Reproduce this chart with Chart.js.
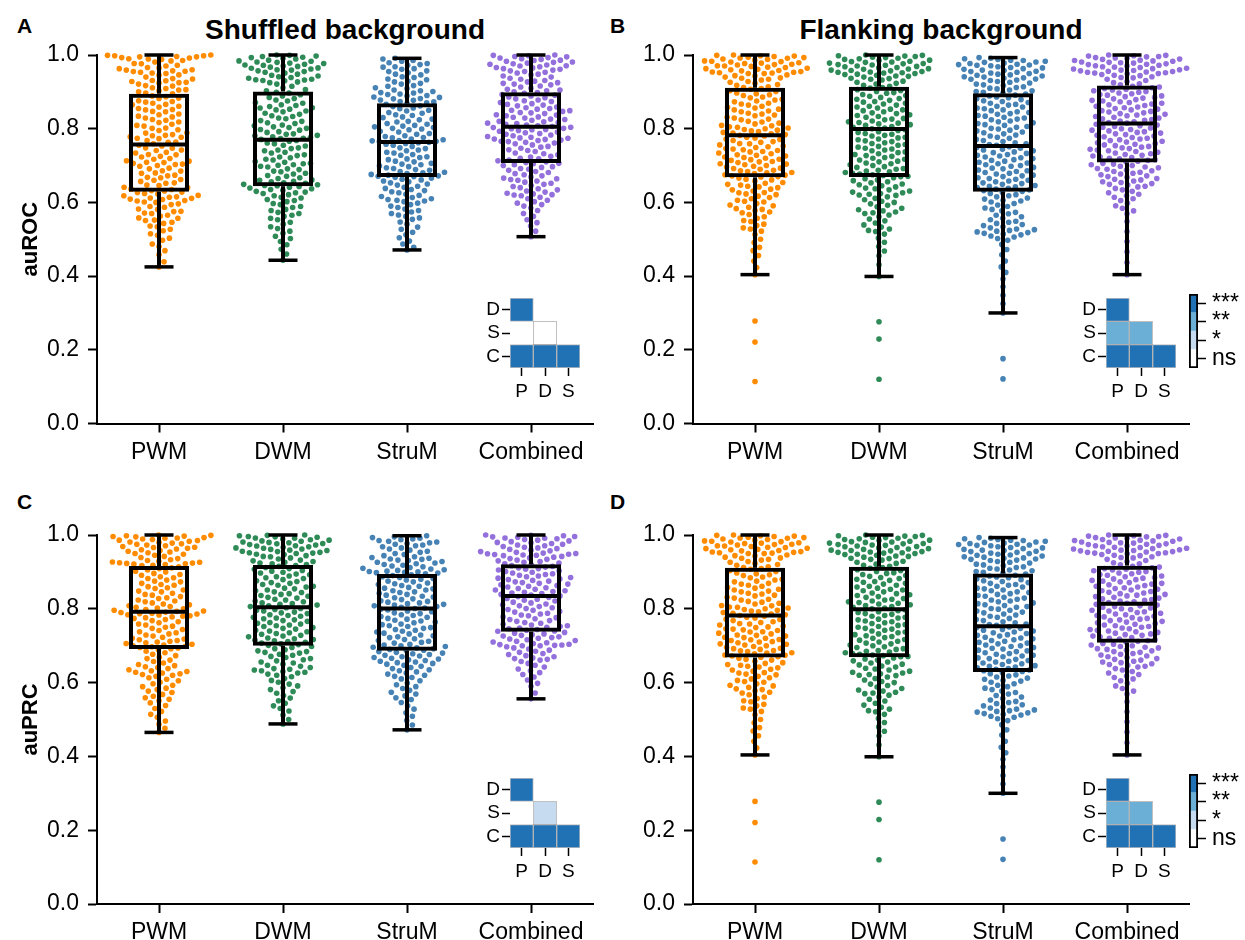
<!DOCTYPE html>
<html>
<head>
<meta charset="utf-8">
<script src="https://cdn.jsdelivr.net/npm/chart.js@4.4.1/dist/chart.umd.min.js"></script>
<style>
  body { margin: 0; background: #fff; width: 1245px; height: 940px; position: relative; overflow: hidden;
         font-family: "Liberation Sans", Arial, sans-serif; }
  .pane { position: absolute; }
  .lbl { position: absolute; white-space: nowrap; color: #000; font-weight: bold; line-height: 1; }
</style>
</head>
<body>
<div class="lbl" style="left:17px;top:15px;font-size:21px">A</div>
<div class="lbl" style="left:610px;top:15px;font-size:21px">B</div>
<div class="lbl" style="left:17px;top:491px;font-size:21px">C</div>
<div class="lbl" style="left:610px;top:491px;font-size:21px">D</div>
<div class="lbl" style="left:345px;top:16px;font-size:28px;transform:translateX(-50%)">Shuffled background</div>
<div class="lbl" style="left:941px;top:16px;font-size:28px;transform:translateX(-50%)">Flanking background</div>

<script>
const methods = ['PWM', 'DWM', 'StruM', 'Combined'];
const dotColors = ['#ff8c00', '#2e8b57', '#4682b4', '#9370db'];
const rowLabels = ['D', 'S', 'C'];
const colLabels = ['P', 'D', 'S'];
const sigLabels = ['ns', '*', '**', '***'];
const sigColors = ['#ffffff', '#c6dbef', '#6baed6', '#2171b5'];

// shuffled background, auROC (panel A)
const shufRocPwm = [1.000,0.999,0.998,0.998,0.996,0.995,0.995,0.993,0.992,0.990,0.989,0.988,0.985,0.984,
  0.981,0.977,0.976,0.972,0.970,0.966,0.965,0.963,0.960,0.959,0.957,0.956,0.955,0.953,0.951,0.950,
  0.946,0.945,0.940,0.936,0.935,0.931,0.930,0.928,0.926,0.925,0.924,0.921,0.917,0.916,0.911,0.909,0.906,0.905,0.903,0.900,
  0.897,0.895,0.889,0.887,0.883,0.882,0.876,0.874,0.872,0.869,0.866,0.865,0.861,0.859,0.855,0.852,0.851,
  0.847,0.846,0.840,0.838,0.834,0.832,0.829,0.825,0.823,0.818,0.817,0.812,0.809,0.807,0.802,0.801,
  0.797,0.795,0.789,0.788,0.784,0.782,0.781,0.778,0.777,0.774,0.773,0.768,0.764,0.763,0.759,
  0.755,0.753,0.748,0.747,0.742,0.741,0.736,0.734,0.730,0.729,0.725,0.723,0.719,0.717,0.713,0.712,0.709,0.708,0.706,0.704,0.703,0.700,
  0.698,0.693,0.691,0.686,0.685,0.680,0.679,0.674,0.672,0.668,0.667,0.662,0.660,0.657,0.653,0.652,
  0.647,0.646,0.641,0.640,0.636,0.635,0.632,0.631,0.628,
  0.627,0.624,0.623,0.619,0.618,0.615,0.614,0.612,0.611,0.609,0.608,0.605,0.604,0.601,0.600,
  0.596,0.594,0.589,0.587,0.582,0.581,0.576,0.575,0.571,0.570,0.565,0.563,0.558,0.557,0.552,0.551,
  0.546,0.543,0.536,0.534,0.527,0.523,0.515,0.511,0.503,
  0.497,0.487,0.480,0.469,0.458,0.439,0.425];
const shufRocDwm = [1.000,0.999,0.997,0.996,0.994,0.993,0.991,0.989,0.986,
  0.984,0.983,0.981,0.980,0.978,0.977,0.975,0.973,0.972,0.970,0.969,0.967,0.965,0.964,0.962,0.960,0.959,0.957,0.955,0.953,0.951,
  0.948,0.945,0.943,0.941,0.939,0.937,0.934,0.933,0.932,0.931,0.930,0.927,0.925,0.921,0.915,0.911,0.906,0.903,
  0.899,0.897,0.892,0.889,0.885,0.882,0.878,0.875,0.871,0.869,0.865,0.863,0.860,0.857,0.856,0.853,0.851,
  0.848,0.846,0.842,0.839,0.835,0.833,0.829,0.827,0.822,0.820,0.816,0.814,0.810,0.808,0.805,0.803,0.801,
  0.798,0.796,0.792,0.790,0.786,0.785,0.782,0.781,0.778,0.776,0.774,0.773,0.771,
  0.768,0.766,0.761,0.759,0.755,0.753,0.748,0.746,0.742,0.740,0.736,0.734,0.729,0.727,0.723,0.721,0.717,0.715,0.711,0.709,0.706,0.705,0.702,0.701,
  0.698,0.696,0.691,0.689,0.685,0.683,0.679,0.677,0.673,0.671,0.667,0.665,0.661,0.660,0.657,0.656,0.653,0.652,0.649,0.648,0.646,0.645,
  0.643,0.641,0.639,0.637,0.635,0.633,0.630,0.628,0.626,0.624,0.621,0.618,0.614,0.612,0.608,0.605,0.602,
  0.597,0.594,0.589,0.586,0.581,0.578,0.573,0.570,0.565,0.562,0.557,0.553,
  0.546,0.541,0.534,0.529,0.522,0.516,0.508,0.502,
  0.494,0.485,0.473,0.460,0.443];
const shufRocStrum = [0.991,0.989,0.985,0.983,0.979,0.977,0.974,0.972,0.968,0.967,0.963,0.961,0.957,0.955,0.952,
  0.948,0.946,0.941,0.939,0.935,0.933,0.929,0.927,0.923,0.921,0.917,0.915,0.911,0.909,0.905,0.903,0.901,
  0.898,0.897,0.894,0.893,0.890,0.889,0.886,0.885,0.882,0.881,0.878,0.877,0.874,0.873,0.870,
  0.868,0.866,0.862,0.860,0.856,0.854,0.850,0.848,0.844,0.842,0.838,0.836,0.832,0.830,0.826,0.824,0.820,0.818,0.814,0.812,0.809,0.807,0.805,0.803,0.801,
  0.799,0.797,0.793,0.791,0.787,0.785,0.781,0.779,0.776,0.775,0.772,0.770,0.768,0.767,0.766,0.765,
  0.763,0.762,0.760,0.758,0.755,0.752,0.748,0.746,0.742,0.740,0.736,0.734,0.730,0.728,0.724,0.722,0.718,0.716,0.712,0.710,0.706,0.704,0.702,
  0.699,0.697,0.694,0.692,0.689,0.687,0.684,0.682,0.680,0.678,0.676,0.674,0.672,0.671,0.670,
  0.668,0.666,0.663,0.661,0.658,0.656,0.653,0.650,0.647,0.644,0.641,0.638,0.635,0.632,0.629,0.626,0.622,0.619,0.616,0.613,0.610,0.608,0.606,0.604,0.602,
  0.598,0.594,0.590,0.586,0.582,0.578,0.574,0.570,0.566,0.562,0.558,0.554,
  0.547,0.541,0.533,0.527,0.519,0.512,0.504,
  0.495,0.487,0.478,0.471];
const shufRocComb = [1.000,0.999,0.998,0.996,0.995,0.993,0.992,0.990,0.988,0.986,
  0.985,0.983,0.981,0.980,0.978,0.976,0.975,0.973,0.971,0.970,0.968,0.966,0.965,0.963,0.961,0.959,0.957,0.955,0.953,0.951,
  0.948,0.946,0.943,0.940,0.937,0.934,0.931,0.929,0.927,0.925,0.923,0.921,0.919,0.916,0.913,0.910,0.907,0.905,0.903,0.900,
  0.898,0.896,0.893,0.891,0.889,0.886,0.884,0.881,0.878,0.876,0.874,0.871,0.868,0.866,0.864,0.862,0.859,0.857,0.855,0.853,0.850,0.849,0.847,0.844,0.843,
  0.841,0.838,0.837,0.835,0.832,0.831,0.829,0.826,0.825,0.823,0.820,0.819,0.817,0.815,0.814,0.812,0.810,0.808,0.806,0.804,0.803,0.801,0.800,0.798,0.797,
  0.795,0.793,0.791,0.789,0.787,0.785,0.783,0.781,0.779,0.777,0.775,0.774,0.772,0.771,0.769,0.768,0.766,0.765,0.763,0.761,
  0.759,0.756,0.752,0.750,0.747,0.743,0.741,0.738,0.734,0.732,0.729,0.725,0.723,0.720,0.718,0.715,0.713,0.710,0.708,0.706,
  0.705,0.702,0.700,0.697,0.695,0.692,0.690,0.687,0.684,0.681,0.678,0.675,0.672,0.669,0.666,0.664,0.662,0.660,
  0.658,0.655,0.652,0.649,0.646,0.643,0.640,0.637,0.634,0.631,0.628,0.625,0.623,0.621,0.620,0.618,
  0.614,0.610,0.606,0.602,0.598,0.594,0.590,0.585,
  0.578,0.570,0.562,0.553,0.545,
  0.536,0.522,0.507];

// shuffled background, auPRC (panel C)
const shufPrcPwm = [1.000,0.999,0.998,0.997,0.996,0.995,0.993,0.992,0.991,0.989,0.988,0.986,0.985,
  0.983,0.981,0.980,0.978,0.976,0.975,0.973,0.971,0.969,0.967,0.966,0.964,0.962,0.960,0.958,0.956,0.954,0.952,0.950,
  0.948,0.945,0.942,0.939,0.936,0.933,0.931,0.929,0.927,0.926,0.925,0.924,0.923,0.922,0.921,0.920,0.918,0.917,
  0.914,0.911,0.909,0.905,0.902,0.900,0.896,0.893,0.891,0.887,0.884,0.882,0.878,0.875,0.873,0.869,0.866,0.864,0.860,0.857,0.855,0.851,0.848,0.846,0.842,
  0.839,0.837,0.833,0.830,0.828,0.824,0.821,0.819,0.816,0.813,0.811,0.808,0.806,0.804,0.802,0.800,0.798,0.796,0.794,0.793,0.791,0.790,0.788,0.787,0.786,
  0.784,0.783,0.781,0.780,0.778,0.776,0.774,0.771,0.768,0.765,0.762,0.759,0.756,0.753,0.750,0.747,0.744,0.741,0.738,0.735,
  0.732,0.729,0.726,0.723,0.720,0.718,0.716,0.714,0.712,0.710,0.708,0.706,0.704,0.702,0.700,0.698,0.697,0.695,0.694,0.692,
  0.689,0.685,0.681,0.677,0.673,0.669,0.665,0.661,0.657,0.653,0.649,0.646,0.643,0.641,
  0.638,0.635,0.632,0.630,0.628,0.626,0.624,0.622,0.620,0.617,0.613,0.609,0.605,0.601,
  0.597,0.593,0.589,0.585,0.581,0.577,0.573,0.568,0.563,0.559,0.555,0.551,
  0.545,0.538,0.530,0.522,0.514,0.506,
  0.496,0.487,0.476,0.465];
const shufPrcDwm = [1.000,0.999,0.998,0.996,0.995,0.994,0.992,0.991,0.989,0.987,0.986,
  0.984,0.983,0.981,0.980,0.979,0.977,0.976,0.974,0.973,0.971,0.970,0.968,0.967,0.965,0.964,0.962,0.961,0.959,0.958,0.956,0.955,0.953,0.952,0.951,0.950,
  0.948,0.947,0.944,0.942,0.941,0.938,0.935,0.932,0.930,0.928,0.926,0.924,0.922,0.920,
  0.917,0.915,0.912,0.909,0.907,0.904,0.902,0.899,0.897,0.894,0.892,0.889,0.887,0.884,0.882,0.879,0.876,0.874,0.871,0.869,0.866,0.864,0.861,0.859,0.856,
  0.854,0.851,0.849,0.846,0.844,0.841,0.839,0.836,0.834,0.831,0.829,0.826,0.824,0.821,0.819,0.816,0.814,0.812,0.810,0.808,0.806,0.805,
  0.803,0.801,0.798,0.796,0.794,0.791,0.789,0.787,0.784,0.782,0.780,0.777,0.775,0.773,0.770,0.768,0.766,0.763,0.761,0.759,0.756,0.754,0.752,0.749,0.747,
  0.745,0.742,0.740,0.738,0.735,0.733,0.731,0.728,0.726,0.724,0.721,0.719,0.717,0.715,0.713,0.711,0.709,0.707,0.705,0.703,0.701,
  0.698,0.695,0.692,0.689,0.686,0.684,0.682,0.680,0.677,0.674,0.671,0.668,0.665,0.662,
  0.659,0.656,0.653,0.650,0.647,0.644,0.641,0.638,0.636,0.634,0.632,0.630,0.628,0.626,0.623,0.620,
  0.616,0.611,0.606,0.601,0.596,0.591,0.586,0.581,0.576,0.571,
  0.565,0.558,0.551,0.544,0.537,0.530,0.523,
  0.512,0.500,0.488];
const shufPrcStrum = [0.998,0.995,0.993,0.991,0.989,0.987,0.985,0.983,0.981,0.979,0.977,0.975,0.973,0.971,
  0.968,0.965,0.962,0.959,0.956,0.953,0.950,0.947,0.944,0.941,0.939,0.937,0.935,0.934,0.932,0.931,
  0.928,0.926,0.924,0.922,0.920,0.918,0.916,0.914,0.912,0.910,0.908,0.906,0.904,0.902,0.901,0.900,0.899,0.898,0.897,0.895,
  0.892,0.890,0.887,0.885,0.882,0.880,0.878,0.875,0.873,0.870,0.868,0.866,0.863,0.861,0.858,0.856,0.854,0.851,0.849,0.846,0.844,0.842,0.839,0.837,0.834,
  0.832,0.830,0.827,0.825,0.822,0.820,0.818,0.816,0.814,0.812,0.810,0.808,0.806,0.804,0.802,0.801,
  0.799,0.797,0.794,0.792,0.789,0.787,0.784,0.782,0.779,0.777,0.774,0.772,0.769,0.767,0.764,0.762,0.759,0.757,0.754,0.752,0.749,0.747,0.744,0.742,0.739,
  0.737,0.734,0.732,0.729,0.727,0.724,0.722,0.719,0.717,0.714,0.712,0.709,0.707,0.704,0.702,0.700,0.698,0.696,0.694,0.692,0.690,0.688,0.687,
  0.684,0.682,0.680,0.678,0.676,0.674,0.672,0.670,0.668,0.666,0.664,0.662,0.660,0.658,0.656,0.654,0.652,0.650,
  0.647,0.644,0.641,0.638,0.635,0.632,0.629,0.626,0.623,0.620,0.617,0.614,0.610,0.605,
  0.599,0.594,0.589,0.584,0.579,0.574,0.569,0.564,0.559,0.554,
  0.546,0.537,0.528,0.518,0.509,
  0.497,0.485,0.472];
const shufPrcComb = [1.000,0.999,0.998,0.996,0.995,0.994,0.992,0.991,0.990,0.988,0.986,
  0.984,0.982,0.980,0.979,0.977,0.975,0.973,0.971,0.969,0.967,0.965,0.963,0.961,0.959,0.957,0.955,0.953,0.951,0.950,0.949,
  0.948,0.947,0.946,0.945,0.944,0.942,0.940,0.938,0.936,0.934,0.932,0.930,0.928,0.926,0.924,0.922,
  0.919,0.917,0.915,0.913,0.911,0.909,0.907,0.905,0.903,0.901,0.899,0.897,0.895,0.893,0.891,0.889,0.887,0.885,0.883,0.881,0.879,0.877,0.875,0.873,0.871,
  0.869,0.867,0.865,0.863,0.861,0.859,0.857,0.855,0.853,0.851,0.849,0.847,0.845,0.843,0.841,0.839,0.837,0.835,
  0.833,0.831,0.828,0.826,0.823,0.821,0.818,0.816,0.813,0.811,0.808,0.806,0.803,0.801,0.798,0.796,0.793,0.791,0.788,0.786,0.783,0.781,0.778,0.776,0.773,
  0.771,0.768,0.766,0.763,0.761,0.758,0.756,0.754,0.752,0.750,0.748,0.746,0.744,0.742,0.740,0.739,
  0.736,0.734,0.732,0.730,0.728,0.726,0.724,0.722,0.720,0.718,0.716,0.714,0.712,0.710,0.708,0.706,0.704,0.703,0.702,0.701,0.700,0.700,
  0.697,0.694,0.691,0.688,0.685,0.682,0.679,0.676,0.673,0.670,0.667,0.665,0.663,0.661,
  0.657,0.652,0.647,0.642,0.637,0.632,0.627,0.622,
  0.615,0.607,0.598,0.590,
  0.572,0.556];

// flanking background (panels B and D read identical in the figure)
const flankPwm = [1.000,0.999,0.998,0.997,0.996,0.994,0.993,0.992,0.991,0.989,0.988,0.986,
  0.984,0.983,0.982,0.981,0.979,0.978,0.977,0.975,0.974,0.973,0.971,0.970,0.969,0.967,0.966,0.964,0.963,0.961,0.960,0.958,0.957,0.955,0.954,0.953,0.952,0.951,0.950,0.950,
  0.946,0.944,0.943,0.940,0.938,0.937,0.934,0.932,0.928,0.926,0.923,0.920,0.918,0.914,0.912,
  0.909,0.907,0.903,0.901,0.897,0.895,0.892,0.890,0.886,0.884,0.880,0.878,0.875,0.873,0.869,0.867,0.864,0.861,0.858,0.856,0.853,0.851,
  0.848,0.846,0.842,0.840,0.837,0.835,0.831,0.829,0.826,0.824,0.820,0.818,0.815,0.813,0.809,0.808,0.805,0.804,0.802,0.800,
  0.798,0.796,0.794,0.792,0.790,0.788,0.786,0.784,0.782,
  0.780,0.777,0.775,0.772,0.771,0.768,0.765,0.763,0.760,0.759,0.756,0.753,0.751,0.749,0.746,0.745,0.743,0.741,
  0.738,0.737,0.734,0.732,0.729,0.728,0.726,0.723,0.722,0.720,0.717,0.716,0.714,0.711,0.710,0.708,0.705,0.704,0.702,0.700,
  0.698,0.696,0.693,0.692,0.690,0.687,0.686,0.684,0.681,0.680,0.678,0.675,0.674,0.672,0.670,0.669,
  0.666,0.663,0.661,0.658,0.654,0.652,0.649,0.647,0.644,0.642,0.640,0.636,0.634,0.631,0.627,0.626,0.623,0.621,
  0.617,0.613,0.610,0.606,0.603,0.601,0.597,0.593,0.591,0.587,0.583,0.581,0.578,0.574,0.572,
  0.567,0.561,0.557,0.551,0.548,0.541,0.537,0.531,0.528,0.522,
  0.513,0.500,0.491,0.478,0.469,0.456,
  0.441,0.423,0.404,
  0.278,0.221,0.114];
const flankDwm = [1.000,0.999,0.998,0.997,0.996,0.994,0.993,0.991,0.990,0.988,0.986,
  0.985,0.983,0.982,0.981,0.980,0.978,0.977,0.976,0.974,0.973,0.972,0.970,0.969,0.968,0.966,0.965,0.963,0.962,0.961,0.959,0.958,0.957,0.955,0.954,0.953,0.952,0.951,0.950,
  0.948,0.947,0.945,0.943,0.942,0.940,0.937,0.936,0.934,0.932,0.929,0.926,0.923,0.921,0.918,0.915,
  0.912,0.910,0.906,0.904,0.901,0.898,0.896,0.893,0.890,0.888,0.885,0.882,0.880,0.877,0.874,0.872,0.869,0.867,0.864,0.861,0.859,0.856,0.853,0.851,0.849,
  0.846,0.843,0.841,0.838,0.836,0.833,0.831,0.828,0.826,0.824,0.821,0.819,0.817,0.815,0.813,0.811,0.809,0.806,0.804,0.802,0.800,
  0.797,0.795,0.792,0.790,0.787,0.785,0.782,0.780,0.777,0.775,0.772,0.770,0.767,0.765,0.762,0.760,0.757,0.755,0.752,0.750,0.747,0.745,0.742,0.740,0.737,
  0.735,0.732,0.730,0.727,0.725,0.722,0.720,0.717,0.715,0.712,0.710,0.707,0.705,0.702,0.700,0.697,0.695,0.692,0.690,0.687,0.685,0.683,0.681,0.679,0.677,0.675,0.673,0.671,0.670,
  0.667,0.664,0.661,0.659,0.656,0.653,0.650,0.648,0.645,0.642,0.639,0.637,0.634,0.631,0.628,0.626,0.624,0.622,0.620,0.619,
  0.615,0.611,0.607,0.603,0.600,0.596,0.592,0.588,0.584,0.580,0.577,0.574,0.572,0.570,
  0.566,0.561,0.555,0.550,0.544,0.539,0.533,0.528,0.524,0.521,
  0.514,0.503,0.492,0.480,0.468,0.455,
  0.431,0.399,
  0.276,0.229,0.120];
const flankStrum = [0.993,0.991,0.990,0.988,0.986,0.985,0.983,0.981,0.980,0.978,0.977,0.975,0.974,0.973,0.972,0.971,
  0.968,0.966,0.965,0.963,0.961,0.959,0.958,0.956,0.955,0.953,0.951,0.950,0.948,0.946,0.945,0.943,0.941,0.940,0.938,0.937,0.935,0.934,0.932,0.931,
  0.928,0.926,0.924,0.921,0.919,0.917,0.914,0.912,0.910,0.908,0.905,0.903,0.901,0.899,0.897,
  0.894,0.891,0.889,0.886,0.884,0.881,0.879,0.876,0.874,0.871,0.869,0.866,0.864,0.861,0.859,0.856,0.854,0.851,0.849,0.846,0.844,0.841,0.839,0.836,0.834,
  0.831,0.829,0.826,0.824,0.821,0.819,0.816,0.814,0.811,0.809,0.806,0.804,0.801,0.799,0.796,0.794,0.791,0.789,0.786,0.783,0.780,0.777,0.774,0.771,0.768,
  0.765,0.762,0.759,0.757,0.755,
  0.751,0.749,0.747,0.744,0.742,0.740,0.737,0.735,0.733,0.730,0.728,0.726,0.723,0.721,0.719,0.716,0.714,0.712,0.709,0.707,0.705,0.702,0.700,0.698,0.695,
  0.693,0.691,0.688,0.686,0.684,0.681,0.679,0.677,0.674,0.672,0.670,0.667,0.665,0.663,0.660,0.658,0.656,0.653,0.651,0.649,0.646,0.644,0.642,0.640,0.638,
  0.636,0.634,0.632,0.630,
  0.627,0.624,0.621,0.618,0.615,0.612,0.609,0.606,0.604,0.601,
  0.597,0.593,0.589,0.585,0.581,0.577,0.573,0.569,0.565,0.561,0.557,0.553,
  0.549,0.546,0.543,0.540,0.537,0.534,0.531,0.528,0.526,0.524,0.522,0.520,0.518,0.516,0.514,0.512,0.509,0.506,0.502,0.497,
  0.486,0.472,0.458,0.441,0.425,0.410,
  0.392,0.371,0.348,0.325,0.300,
  0.176,0.121];
const flankComb = [1.000,0.999,0.998,0.997,0.996,0.995,0.993,0.992,0.991,0.989,0.988,0.986,
  0.985,0.984,0.983,0.981,0.980,0.979,0.978,0.976,0.975,0.974,0.972,0.971,0.970,0.968,0.967,0.966,0.964,0.963,0.962,0.960,0.959,0.958,0.957,0.956,0.955,0.954,0.953,0.952,0.951,0.950,
  0.949,0.947,0.945,0.944,0.941,0.939,0.938,0.934,0.931,0.928,0.925,0.922,0.919,
  0.915,0.913,0.911,0.909,0.907,0.905,0.903,0.901,0.899,0.897,0.895,0.893,0.891,0.889,0.887,0.885,0.883,0.881,0.879,0.877,0.875,0.873,0.871,0.869,0.867,
  0.865,0.863,0.861,0.859,0.857,0.855,0.853,0.851,0.849,0.847,0.845,0.843,0.841,0.839,0.837,0.835,0.833,0.831,0.829,0.827,0.825,0.823,0.821,0.819,0.817,0.815,
  0.812,0.810,0.808,0.806,0.804,0.802,0.800,0.798,0.796,0.794,0.792,0.790,0.788,0.786,0.784,0.782,0.780,0.778,0.776,0.774,0.772,0.770,0.768,0.766,0.764,
  0.762,0.760,0.758,0.756,0.754,0.752,0.750,0.748,0.746,0.744,0.742,0.740,0.738,0.736,0.734,0.732,0.730,0.728,0.726,0.724,0.722,0.720,0.718,0.716,0.714,
  0.712,0.710,
  0.706,0.704,0.702,0.700,0.698,0.696,0.694,0.692,0.690,0.688,0.686,0.684,0.682,
  0.679,0.677,0.675,0.672,0.670,0.668,0.665,0.663,0.661,0.658,0.656,0.654,0.651,0.649,0.647,0.644,0.642,
  0.638,0.634,0.630,0.626,0.622,0.618,0.614,0.610,0.605,
  0.598,0.591,0.584,0.577,0.569,
  0.548,0.521,0.494,0.466,0.437,0.404];

// box summaries: [lower whisker, q1, median, q3, upper whisker]
const boxShufRoc = [[0.425, 0.629, 0.757, 0.895, 1.0], [0.443, 0.644, 0.770, 0.901, 1.0],
                    [0.471, 0.669, 0.764, 0.869, 0.991], [0.507, 0.707, 0.805, 0.899, 1.0]];
const boxFlankRoc = [[0.404, 0.668, 0.782, 0.911, 1.0], [0.399, 0.669, 0.799, 0.914, 1.0],
                     [0.300, 0.629, 0.753, 0.896, 0.993], [0.404, 0.708, 0.814, 0.917, 1.0]];
const boxShufPrc = [[0.465, 0.691, 0.792, 0.916, 1.0], [0.488, 0.700, 0.804, 0.919, 1.0],
                    [0.472, 0.686, 0.801, 0.894, 0.998], [0.556, 0.738, 0.835, 0.921, 1.0]];
const boxFlankPrc = [[0.404, 0.668, 0.782, 0.911, 1.0], [0.399, 0.669, 0.799, 0.914, 1.0],
                     [0.300, 0.629, 0.753, 0.896, 0.993], [0.404, 0.708, 0.814, 0.917, 1.0]];

// pairwise test levels, rows D,S,C against cols P,D,S (index into sigLabels, null = no cell)
const sigShufRoc = [[3], [null, 0], [3, 3, 3]];
const sigFlankRoc = [[3], [2, 2], [3, 3, 3]];
const sigShufPrc = [[3], [null, 1], [3, 3, 3]];
const sigFlankPrc = [[3], [2, 2], [3, 3, 3]];

const PX_PER_CAT = 124;
const PX_PER_UNIT = 368.5;
const DOT_GAP = 7.2;

Chart.defaults.font.family = '"Liberation Sans", Arial, sans-serif';
Chart.defaults.color = '#000';

function mount(left, top, w, h) {
  const div = document.createElement('div');
  div.className = 'pane';
  div.style.left = left + 'px';
  div.style.top = top + 'px';
  div.style.width = w + 'px';
  div.style.height = h + 'px';
  const cv = document.createElement('canvas');
  cv.width = w;
  cv.height = h;
  div.appendChild(cv);
  document.body.appendChild(div);
  return cv;
}

// beeswarm: lowest value first, each dot takes the free slot closest to the centre line
function swarm(values, center) {
  const order = values.map((v, i) => i).sort((a, b) => values[a] - values[b]);
  const placed = [];
  const pts = [];
  const d2 = DOT_GAP * DOT_GAP;
  order.forEach(i => {
    const y = values[i] * PX_PER_UNIT;
    const near = placed.filter(p => Math.abs(p.y - y) < DOT_GAP);
    const cands = [0];
    near.forEach(p => {
      const dx = Math.sqrt(d2 - (p.y - y) * (p.y - y));
      cands.push(p.x + dx, p.x - dx);
    });
    cands.sort((a, b) => Math.abs(a) - Math.abs(b));
    let x = 0;
    for (const c of cands) {
      if (near.every(p => (p.x - c) * (p.x - c) + (p.y - y) * (p.y - y) >= d2 - 1e-6)) { x = c; break; }
    }
    placed.push({x, y});
    pts.push({x: center + x / PX_PER_CAT, y: values[i]});
  });
  return pts;
}

const axisGrid = { display: true, offset: false, drawOnChartArea: false, drawTicks: true, tickLength: 9, tickWidth: 2, tickColor: '#000' };
const axisBorder = { display: true, color: '#000', width: 2 };

function makePanel(cv, groups, boxes, yTitle, pad, xHeight, yWidth) {
  const datasets = groups.map((vals, i) => ({
    type: 'scatter', data: swarm(vals, i), pointRadius: 2.8, pointHoverRadius: 2.8,
    pointBackgroundColor: dotColors[i], pointBorderWidth: 0, clip: false, order: 5
  }));
  const barBase = { type: 'bar', grouped: false, clip: false, borderSkipped: false };
  datasets.push({ ...barBase, data: boxes.map((b, i) => ({x: i, y: [b[0], b[1]]})),
    backgroundColor: '#000', borderWidth: 0, maxBarThickness: 4, order: 3 });
  datasets.push({ ...barBase, data: boxes.map((b, i) => ({x: i, y: [b[3], b[4]]})),
    backgroundColor: '#000', borderWidth: 0, maxBarThickness: 4, order: 3 });
  datasets.push({ ...barBase, data: boxes.map((b, i) => ({x: i, y: [b[1], b[3]]})),
    backgroundColor: 'rgba(0,0,0,0)', borderColor: '#000', borderWidth: 4, maxBarThickness: 60, order: 2 });
  datasets.push({ type: 'scatter', data: boxes.map((b, i) => ({x: i, y: b[2]})), pointStyle: 'line',
    pointRadius: 29, pointBorderWidth: 4, pointBorderColor: '#000', clip: false, order: 1 });
  datasets.push({ type: 'scatter', data: boxes.flatMap((b, i) => [{x: i, y: b[0]}, {x: i, y: b[4]}]), pointStyle: 'line',
    pointRadius: 14.5, pointBorderWidth: 3.5, pointBorderColor: '#000', clip: false, order: 1 });

  return new Chart(cv, {
    type: 'scatter',
    data: { datasets },
    options: {
      responsive: false, animation: false, events: [],
      layout: { padding: pad, autoPadding: false },
      plugins: { legend: { display: false }, tooltip: { enabled: false } },
      scales: {
        x: {
          type: 'linear', min: -0.5, max: 3.5, offset: false, grid: axisGrid, border: axisBorder,
          afterBuildTicks: s => { s.ticks = methods.map((m, i) => ({value: i})); },
          afterFit: s => { s.height = xHeight; },
          ticks: { font: { size: 23 }, color: '#000', padding: 6, autoSkip: false, maxRotation: 0,
                   callback: v => methods[v] }
        },
        y: {
          type: 'linear', min: 0, max: 1, beginAtZero: false, grid: axisGrid, border: axisBorder,
          afterFit: s => { s.width = yWidth; },
          ticks: { font: { size: 23 }, color: '#000', padding: 9, stepSize: 0.2, autoSkip: false,
                   callback: v => v.toFixed(1) },
          title: { display: !!yTitle, text: yTitle, color: '#000', font: { size: 22, weight: 'bold' },
                   padding: { top: 18, bottom: 0 } }
        }
      }
    }
  });
}

function makeInset(cv, sig) {
  const datasets = colLabels.map((c, j) => ({
    data: rowLabels.map((r, i) => (j <= i && sig[i][j] !== null) ? [j - 0.5, j + 0.5] : null),
    backgroundColor: rowLabels.map((r, i) => (j <= i && sig[i][j] !== null) ? sigColors[sig[i][j]] : 'rgba(0,0,0,0)'),
    borderColor: 'rgba(140,140,140,0.55)', borderWidth: 1, borderSkipped: false,
    grouped: false, barPercentage: 1, categoryPercentage: 1
  }));
  const tickGrid = { display: true, offset: false, drawOnChartArea: false, drawTicks: true, tickLength: 8, tickWidth: 1.5, tickColor: '#000' };
  return new Chart(cv, {
    type: 'bar',
    data: { labels: rowLabels, datasets },
    options: {
      indexAxis: 'y', responsive: false, animation: false, events: [],
      layout: { padding: { left: 0, top: 18, right: 10, bottom: 0 }, autoPadding: false },
      plugins: { legend: { display: false }, tooltip: { enabled: false } },
      scales: {
        x: {
          type: 'linear', min: -0.5, max: 2.5, offset: false, grid: tickGrid, border: { display: false },
          afterBuildTicks: s => { s.ticks = colLabels.map((c, j) => ({value: j})); },
          afterFit: s => { s.height = 42; },
          ticks: { font: { size: 19 }, color: '#000', padding: 4, autoSkip: false, maxRotation: 0,
                   callback: v => colLabels[v] }
        },
        y: {
          type: 'category', offset: true, grid: tickGrid, border: { display: false },
          afterFit: s => { s.width = 45; },
          ticks: { font: { size: 19 }, color: '#000', padding: 2, autoSkip: false }
        }
      }
    }
  });
}

function makeColorbar(cv) {
  const datasets = sigLabels.map((s, k) => ({
    data: [[k, k + 1]], backgroundColor: sigColors[k], borderWidth: 0,
    grouped: false, barPercentage: 1, categoryPercentage: 1, order: 2
  }));
  datasets.push({ data: [[0, sigLabels.length]], backgroundColor: 'rgba(0,0,0,0)', borderColor: '#000',
    borderWidth: 1.5, borderSkipped: false, grouped: false, barPercentage: 1, categoryPercentage: 1, order: 1 });
  return new Chart(cv, {
    type: 'bar',
    data: { labels: [''], datasets },
    options: {
      responsive: false, animation: false, events: [],
      layout: { padding: { left: 9, top: 22, right: 0, bottom: 22 }, autoPadding: false },
      plugins: { legend: { display: false }, tooltip: { enabled: false } },
      scales: {
        x: { display: false, offset: true },
        y: {
          position: 'right', min: 0, max: sigLabels.length,
          grid: { display: true, drawOnChartArea: false, drawTicks: true, tickLength: 8, tickWidth: 1.5, tickColor: '#000' },
          border: { display: false },
          afterBuildTicks: s => { s.ticks = sigLabels.map((l, k) => ({value: k + 0.5})); },
          afterFit: s => { s.width = 47; },
          ticks: { font: { size: 23 }, color: '#000', padding: 6, autoSkip: false,
                   callback: v => sigLabels[Math.floor(v)] }
        }
      }
    }
  });
}

makePanel(mount(0, 30, 610, 430), [shufRocPwm, shufRocDwm, shufRocStrum, shufRocComb], boxShufRoc, 'auROC',
  { left: 0, top: 25, right: 17, bottom: 0 }, 36.5, 97);
makePanel(mount(600, 30, 610, 430), [flankPwm, flankDwm, flankStrum, flankComb], boxFlankRoc, '',
  { left: 0, top: 25, right: 21, bottom: 0 }, 36.5, 93);
makePanel(mount(0, 510, 610, 430), [shufPrcPwm, shufPrcDwm, shufPrcStrum, shufPrcComb], boxShufPrc, 'auPRC',
  { left: 0, top: 25, right: 17, bottom: 0 }, 36, 97);
makePanel(mount(600, 510, 610, 430), [flankPwm, flankDwm, flankStrum, flankComb], boxFlankPrc, '',
  { left: 0, top: 25, right: 21, bottom: 0 }, 36, 93);

makeInset(mount(465, 280, 125, 130), sigShufRoc);
makeInset(mount(1061, 280, 125, 130), sigFlankRoc);
makeInset(mount(465, 760, 125, 130), sigShufPrc);
makeInset(mount(1061, 760, 125, 130), sigFlankPrc);
makeColorbar(mount(1180, 272, 65, 118));
makeColorbar(mount(1180, 752, 65, 118));
</script>
</body>
</html>
